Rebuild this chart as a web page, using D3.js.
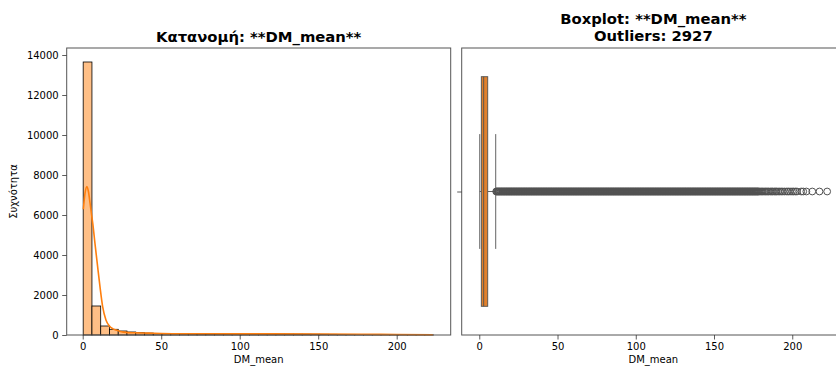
<!DOCTYPE html>
<html>
<head>
<meta charset="utf-8">
<script src="https://cdn.jsdelivr.net/npm/d3@7/dist/d3.min.js"></script>
<style>
  body { margin: 0; background: #fff; }
  svg text { font-family: "DejaVu Sans", sans-serif; fill: #000; }
</style>
</head>
<body>
<svg id="chart" width="836" height="369"></svg>
<script>
// ---- histogram of DM_mean (40 equal-width bins) ----
const binStart = 0.3;
const binWidth = 5.58;
const binCounts = [13650, 1450, 450, 285, 200, 150, 115, 95, 80, 72,
                   66, 62, 60, 58, 56, 55, 54, 53, 52, 51,
                   50, 49, 47, 45, 43, 41, 38, 35, 32, 29,
                   26, 23, 20, 17, 14, 11, 9, 7, 5, 3];

// ---- KDE curve, scaled to counts ----
const kdeX = [0.4, 1.5, 2.7, 3.7, 4.7, 5.5, 6.4, 7.8, 9.5, 11.0, 12.7, 14.8, 17, 19, 21.2, 24, 27.6, 33, 42, 50, 60, 80, 100, 120, 150, 180, 200, 223];
const kdeY = [6285, 7100, 7420, 7150, 6580, 6100, 5580, 4580, 3415, 2415, 1415, 750, 450, 320, 250, 180, 130, 110, 95, 75, 65, 60, 58, 55, 48, 35, 25, 15];

// ---- boxplot summary ----
const boxQuartiles = [1.3, 2.8, 5.4];   // Q1, median, Q3
const boxWhiskers = [0.3, 10.5];        // low, high
const outlierCount = 2927;
const outliers = [
  10.8, 11.2, 11.6, 12, 12.4, 12.8, 13.2, 13.6, 14, 14.4, 14.8, 15.2, 15.6, 16, 16.4, 16.8, 17.2, 17.6, 18, 18.4,
  18.8, 19.2, 19.6, 20, 20.4, 20.8, 21.2, 21.6, 22, 22.4, 22.8, 23.2, 23.6, 24, 24.4, 24.8, 25.2, 25.6, 26, 26.4,
  26.8, 27.2, 27.6, 28, 28.4, 28.8, 29.2, 29.6, 30, 30.4, 30.8, 31.2, 31.6, 32, 32.4, 32.8, 33.2, 33.6, 34, 34.4,
  34.8, 35.2, 35.6, 36, 36.4, 36.8, 37.2, 37.6, 38, 38.4, 38.8, 39.2, 39.6, 40, 40.4, 40.8, 41.2, 41.6, 42, 42.4,
  42.8, 43.2, 43.6, 44, 44.4, 44.8, 45.2, 45.6, 46, 46.4, 46.8, 47.2, 47.6, 48, 48.4, 48.8, 49.2, 49.6, 50, 50.4,
  50.8, 51.2, 51.6, 52, 52.4, 52.8, 53.2, 53.6, 54, 54.4, 54.8, 55.2, 55.6, 56, 56.4, 56.8, 57.2, 57.6, 58, 58.4,
  58.8, 59.2, 59.6, 60, 60.4, 60.8, 61.2, 61.6, 62, 62.4, 62.8, 63.2, 63.6, 64, 64.4, 64.8, 65.2, 65.6, 66, 66.4,
  66.8, 67.2, 67.6, 68, 68.4, 68.8, 69.2, 69.6, 70, 70.4, 70.8, 71.2, 71.6, 72, 72.4, 72.8, 73.2, 73.6, 74, 74.4,
  74.8, 75.2, 75.6, 76, 76.4, 76.8, 77.2, 77.6, 78, 78.4, 78.8, 79.2, 79.6, 80, 80.4, 80.8, 81.2, 81.6, 82, 82.4,
  82.8, 83.2, 83.6, 84, 84.4, 84.8, 85.2, 85.6, 86, 86.4, 86.8, 87.2, 87.6, 88, 88.4, 88.8, 89.2, 89.6, 90, 90.4,
  90.8, 91.2, 91.6, 92, 92.4, 92.8, 93.2, 93.6, 94, 94.4, 94.8, 95.2, 95.6, 96, 96.4, 96.8, 97.2, 97.6, 98, 98.4,
  98.8, 99.2, 99.6, 100, 100.4, 100.8, 101.2, 101.6, 102, 102.4, 102.8, 103.2, 103.6, 104, 104.4, 104.8, 105.2, 105.6, 106, 106.4,
  106.8, 107.2, 107.6, 108, 108.4, 108.8, 109.2, 109.6, 110, 110.4, 110.8, 111.2, 111.6, 112, 112.4, 112.8, 113.2, 113.6, 114, 114.4,
  114.8, 115.2, 115.6, 116, 116.4, 116.8, 117.2, 117.6, 118, 118.4, 118.8, 119.2, 119.6, 120, 120.4, 120.8, 121.2, 121.6, 122, 122.4,
  122.8, 123.2, 123.6, 124, 124.4, 124.8, 125.2, 125.6, 126, 126.4, 126.8, 127.2, 127.6, 128, 128.4, 128.8, 129.2, 129.6, 130, 130.4,
  130.8, 131.2, 131.6, 132, 132.4, 132.8, 133.2, 133.6, 134, 134.4, 134.8, 135.2, 135.6, 136, 136.4, 136.8, 137.2, 137.6, 138, 138.4,
  138.8, 139.2, 139.6, 140, 140.4, 140.8, 141.2, 141.6, 142, 142.4, 142.8, 143.2, 143.6, 144, 144.4, 144.8, 145.2, 145.6, 146, 146.4,
  146.8, 147.2, 147.6, 148, 148.4, 148.8, 149.2, 149.6, 150, 150.4, 150.8, 151.2, 151.6, 152, 152.4, 152.8, 153.2, 153.6, 154, 154.4,
  154.8, 155.2, 155.6, 156, 156.4, 156.8, 157.2, 157.6, 158, 158.4, 158.8, 159.2, 159.6, 160, 160.4, 160.8, 161.2, 161.6, 162, 162.4,
  162.8, 163.2, 163.6, 164, 164.4, 164.8, 165.2, 165.6, 166, 166.4, 166.8, 167.2, 167.6, 168, 168.4, 168.8, 169.2, 169.6, 170, 170.4,
  170.8, 171.2, 171.6, 172, 172.4, 172.8, 173.2, 173.6, 174, 174.4, 174.8, 175.2, 175.6, 176, 176.4, 176.8, 177.2, 177.6, 178, 178.4,
  179, 179.8, 180.5, 181.2, 182, 182.8, 183.5, 184.3, 185, 186, 186.8, 187.5, 188.5, 189.3, 190, 191, 192, 193, 194, 195.2,
  196.5, 197.5, 198.6, 199.8, 200.8, 202, 203, 205.7, 207, 209, 212.8, 217.4, 222.3
];

// ---- axis ticks ----
const xTicks = [0, 50, 100, 150, 200];
const yTicks = [0, 2000, 4000, 6000, 8000, 10000, 12000, 14000];
const varName = "DM_mean";

const svg = d3.select("#chart");
const orange = "#ff7f0e";
const histFill = "#ffbf86";
const boxFill = "#e1802c";
const lineGray = "#515151";
const spineColor = "#555";

// panel frames
const L = { x0: 66.7, x1: 450.7, top: 48, bottom: 335 };
const R = { x0: 461.7, x1: 845, top: 48, bottom: 335 };

// ================= left: histogram =================
const xL = d3.scaleLinear().domain([-10.2, 234.4]).range([L.x0, L.x1]);
const yL = d3.scaleLinear().domain([0, 14350]).range([L.bottom, L.top]);

const gL = svg.append("g");
gL.selectAll("rect.bar")
  .data(binCounts)
  .join("rect")
  .attr("class", "bar")
  .attr("x", (d, i) => xL(binStart + i * binWidth))
  .attr("width", (d, i) => xL(binStart + (i + 1) * binWidth) - xL(binStart + i * binWidth))
  .attr("y", d => yL(d))
  .attr("height", d => yL(0) - yL(d))
  .attr("fill", histFill)
  .attr("stroke", "#000")
  .attr("stroke-width", 0.8);

const kdeLine = d3.line()
  .x(d => xL(d[0]))
  .y(d => yL(d[1]))
  .curve(d3.curveMonotoneX);
gL.append("path")
  .datum(d3.zip(kdeX, kdeY))
  .attr("d", kdeLine)
  .attr("fill", "none")
  .attr("stroke", orange)
  .attr("stroke-width", 1.6);

gL.append("rect")
  .attr("x", L.x0).attr("y", L.top)
  .attr("width", L.x1 - L.x0).attr("height", L.bottom - L.top)
  .attr("fill", "none").attr("stroke", spineColor).attr("stroke-width", 1);

function styleAxis(g) {
  g.select(".domain").remove();
  g.selectAll(".tick line").attr("stroke", "#333").attr("stroke-width", 0.8);
  g.selectAll(".tick text").attr("font-size", 10).attr("fill", "#000");
}

svg.append("g")
  .attr("transform", `translate(0,${L.bottom})`)
  .call(d3.axisBottom(xL).tickValues(xTicks).tickSize(4.5).tickPadding(3.5))
  .call(styleAxis);

svg.append("g")
  .attr("transform", `translate(${L.x0},0)`)
  .call(d3.axisLeft(yL).tickValues(yTicks).tickFormat(d3.format("d")).tickSize(4.5).tickPadding(3.5))
  .call(styleAxis);

svg.append("text")
  .attr("x", (L.x0 + L.x1) / 2).attr("y", 42)
  .attr("text-anchor", "middle")
  .attr("font-size", 14.8).attr("font-weight", "bold")
  .text(`Κατανομή: **${varName}**`);

svg.append("text")
  .attr("x", (L.x0 + L.x1) / 2).attr("y", 363)
  .attr("text-anchor", "middle").attr("font-size", 10)
  .text(varName);

svg.append("text")
  .attr("transform", `translate(17,${(L.top + L.bottom) / 2}) rotate(-90)`)
  .attr("text-anchor", "middle").attr("font-size", 10)
  .text("Συχνότητα");

// ================= right: boxplot =================
const xR = d3.scaleLinear().domain([-11.23, 233.7]).range([R.x0, R.x1]);
const yR = d3.scaleLinear().domain([-0.5, 0.5]).range([R.top, R.bottom]);
const gR = svg.append("g");

// whiskers
gR.append("line")
  .attr("x1", xR(boxWhiskers[0])).attr("x2", xR(boxQuartiles[0]))
  .attr("y1", yR(0)).attr("y2", yR(0))
  .attr("stroke", lineGray).attr("stroke-width", 0.9);
gR.append("line")
  .attr("x1", xR(boxQuartiles[2])).attr("x2", xR(boxWhiskers[1]))
  .attr("y1", yR(0)).attr("y2", yR(0))
  .attr("stroke", lineGray).attr("stroke-width", 0.9);
// caps
gR.selectAll("line.cap")
  .data(boxWhiskers)
  .join("line")
  .attr("class", "cap")
  .attr("x1", d => xR(d)).attr("x2", d => xR(d))
  .attr("y1", yR(-0.2)).attr("y2", yR(0.2))
  .attr("stroke", lineGray).attr("stroke-width", 0.9);

// outliers
gR.selectAll("circle.flier")
  .data(outliers)
  .join("circle")
  .attr("class", "flier")
  .attr("cx", d => xR(d))
  .attr("cy", yR(0))
  .attr("r", 3.4)
  .attr("fill", "none")
  .attr("stroke", lineGray)
  .attr("stroke-width", 1);

// box
gR.append("rect")
  .attr("x", xR(boxQuartiles[0]))
  .attr("width", xR(boxQuartiles[2]) - xR(boxQuartiles[0]))
  .attr("y", yR(-0.4))
  .attr("height", yR(0.4) - yR(-0.4))
  .attr("fill", boxFill)
  .attr("stroke", lineGray)
  .attr("stroke-width", 0.9);
// median
gR.append("line")
  .attr("x1", xR(boxQuartiles[1])).attr("x2", xR(boxQuartiles[1]))
  .attr("y1", yR(-0.4)).attr("y2", yR(0.4))
  .attr("stroke", lineGray).attr("stroke-width", 0.9);

gR.append("rect")
  .attr("x", R.x0).attr("y", R.top)
  .attr("width", R.x1 - R.x0).attr("height", R.bottom - R.top)
  .attr("fill", "none").attr("stroke", spineColor).attr("stroke-width", 1);

svg.append("g")
  .attr("transform", `translate(0,${R.bottom})`)
  .call(d3.axisBottom(xR).tickValues(xTicks).tickSize(4.5).tickPadding(3.5))
  .call(styleAxis);

svg.append("g")
  .attr("transform", `translate(${R.x0},0)`)
  .call(d3.axisLeft(yR).tickValues([0]).tickSize(4.5).tickFormat(() => ""))
  .call(styleAxis);

const titleR = svg.append("text")
  .attr("text-anchor", "middle")
  .attr("font-size", 14.8).attr("font-weight", "bold");
titleR.append("tspan")
  .attr("x", (R.x0 + R.x1) / 2).attr("y", 24)
  .text(`Boxplot: **${varName}**`);
titleR.append("tspan")
  .attr("x", (R.x0 + R.x1) / 2).attr("y", 41)
  .text(`Outliers: ${outlierCount}`);

svg.append("text")
  .attr("x", (R.x0 + R.x1) / 2).attr("y", 363)
  .attr("text-anchor", "middle").attr("font-size", 10)
  .text(varName);
</script>
</body>
</html>
